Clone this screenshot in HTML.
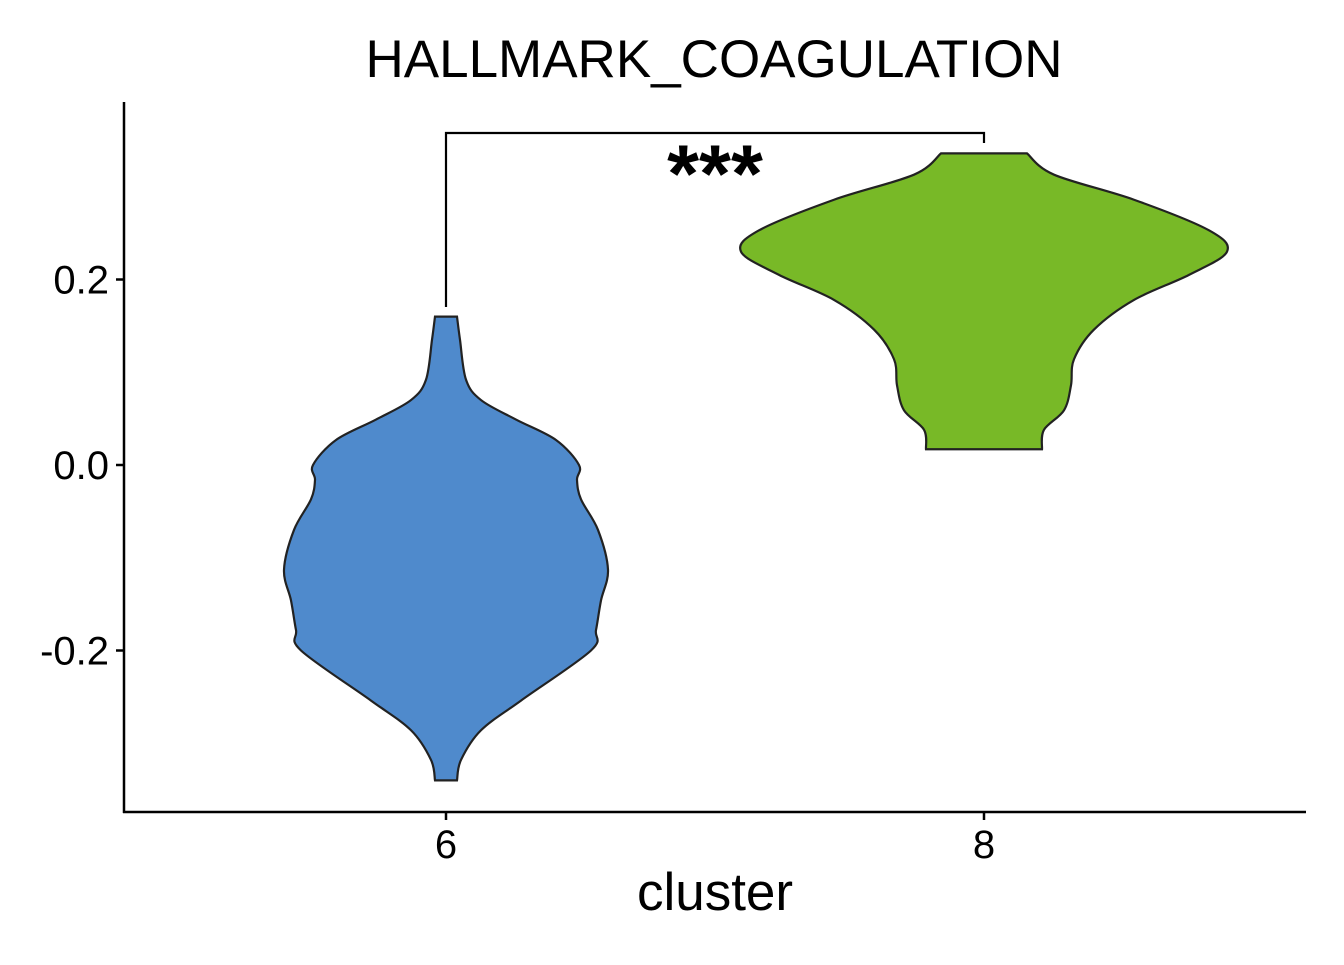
<!DOCTYPE html>
<html><head><meta charset="utf-8"><style>
body{margin:0;background:#fff}
svg text{font-family:"Liberation Sans",sans-serif}
</style></head><body>
<svg id="chart" width="1344" height="960" xmlns="http://www.w3.org/2000/svg">
<text x="714" y="77" font-size="53" text-anchor="middle">HALLMARK_COAGULATION</text>
<line x1="124" y1="102" x2="124" y2="813" stroke="#000" stroke-width="2.5"/>
<line x1="123" y1="812" x2="1306" y2="812" stroke="#000" stroke-width="2.5"/>
<g id="violins"></g>
<g id="axes"></g>
<text x="715" y="910" font-size="53" text-anchor="middle">cluster</text>
</svg>
<script>
const categories = ["6","8"];
const colors = ["#4F8ACC","#78B927"];
const yTicks = [0.2, 0.0, -0.2];
const yTickLabels = ["0.2","0.0","-0.2"];
// violin profiles: value levels and half-width densities (relative)
const v6Values = [0.16,0.135,0.092,0.07,0.049,0.027,0,-0.016,-0.037,-0.070,-0.113,-0.146,-0.178,-0.200,-0.254,-0.286,-0.318,-0.340];
const v6Density = [11,14,20,35,70,110,133,131,135,152,162,155,150,145,75,35,15,11];
const v8Values = [0.336,0.313,0.286,0.253,0.230,0.205,0.178,0.146,0.114,0.086,0.059,0.038,0.017];
const v8Density = [43,70,150,225,243,205,150,110,90,87,80,60,58];
const sig = "***";

const svg = document.getElementById('chart');
const NS = "http://www.w3.org/2000/svg";
const yScale = v => 465 - v * 927.5;
const xScale = i => 446 + i * 538;

const ax = document.getElementById('axes');
yTicks.forEach((t, i) => {
  const l = document.createElementNS(NS, 'line');
  
  
  l.setAttribute('x1', 116); l.setAttribute('x2', 124);
  l.setAttribute('y1', yScale(t)); l.setAttribute('y2', yScale(t));
  l.setAttribute('stroke', '#000'); l.setAttribute('stroke-width', 2.5);
  ax.appendChild(l);
  const tx = document.createElementNS(NS, 'text');
  
  
  tx.setAttribute('x', 109); tx.setAttribute('y', yScale(t) + 14);
  tx.setAttribute('font-size', 40); tx.setAttribute('text-anchor', 'end');
  tx.textContent = yTickLabels[i];
  ax.appendChild(tx);
});
categories.forEach((c, i) => {
  const l = document.createElementNS(NS, 'line');
  
  
  l.setAttribute('x1', xScale(i)); l.setAttribute('x2', xScale(i));
  l.setAttribute('y1', 812); l.setAttribute('y2', 820);
  l.setAttribute('stroke', '#000'); l.setAttribute('stroke-width', 2.5);
  ax.appendChild(l);
  const tx = document.createElementNS(NS, 'text');
  
  
  tx.setAttribute('x', xScale(i)); tx.setAttribute('y', 858);
  tx.setAttribute('font-size', 40); tx.setAttribute('text-anchor', 'middle');
  tx.textContent = c;
  ax.appendChild(tx);
});

function smooth(pts) {
  let d = `L${pts[0][0]},${pts[0][1]}`;
  for (let i = 0; i < pts.length - 1; i++) {
    const p0 = pts[Math.max(0, i - 1)], p1 = pts[i], p2 = pts[i + 1], p3 = pts[Math.min(pts.length - 1, i + 2)];
    const c1 = [p1[0] + (p2[0] - p0[0]) / 6, p1[1] + (p2[1] - p0[1]) / 6];
    const c2 = [p2[0] - (p3[0] - p1[0]) / 6, p2[1] - (p3[1] - p1[1]) / 6];
    d += `C${c1[0]},${c1[1]} ${c2[0]},${c2[1]} ${p2[0]},${p2[1]}`;
  }
  return d;
}
const vg = document.getElementById('violins');
[[v6Values, v6Density], [v8Values, v8Density]].forEach(([vals, dens], i) => {
  const cx = xScale(i);
  const right = vals.map((v, k) => [cx + dens[k], yScale(v)]);
  const left = vals.map((v, k) => [cx - dens[k], yScale(v)]).reverse();
  const d = `M${cx - dens[0]},${yScale(vals[0])}` + smooth(right) + smooth(left) + 'Z';
  const p = document.createElementNS(NS, 'path');
  
  
  p.setAttribute('d', d);
  p.setAttribute('fill', colors[i]);
  p.setAttribute('stroke', '#222'); p.setAttribute('stroke-width', 2.2);
  vg.appendChild(p);
});

const br = document.createElementNS(NS, 'path');


br.setAttribute('d', `M${xScale(0)},307 V133 H${xScale(1)} V143`);
br.setAttribute('fill', 'none'); br.setAttribute('stroke', '#000'); br.setAttribute('stroke-width', 2.2);
svg.appendChild(br);
const st = document.createElementNS(NS, 'text');


st.setAttribute('x', (xScale(0) + xScale(1)) / 2); st.setAttribute('y', 202);
st.setAttribute('font-size', 82); st.setAttribute('font-weight', 'bold'); st.setAttribute('text-anchor', 'middle');
st.textContent = sig;
svg.appendChild(st);
</script>
</body></html>
